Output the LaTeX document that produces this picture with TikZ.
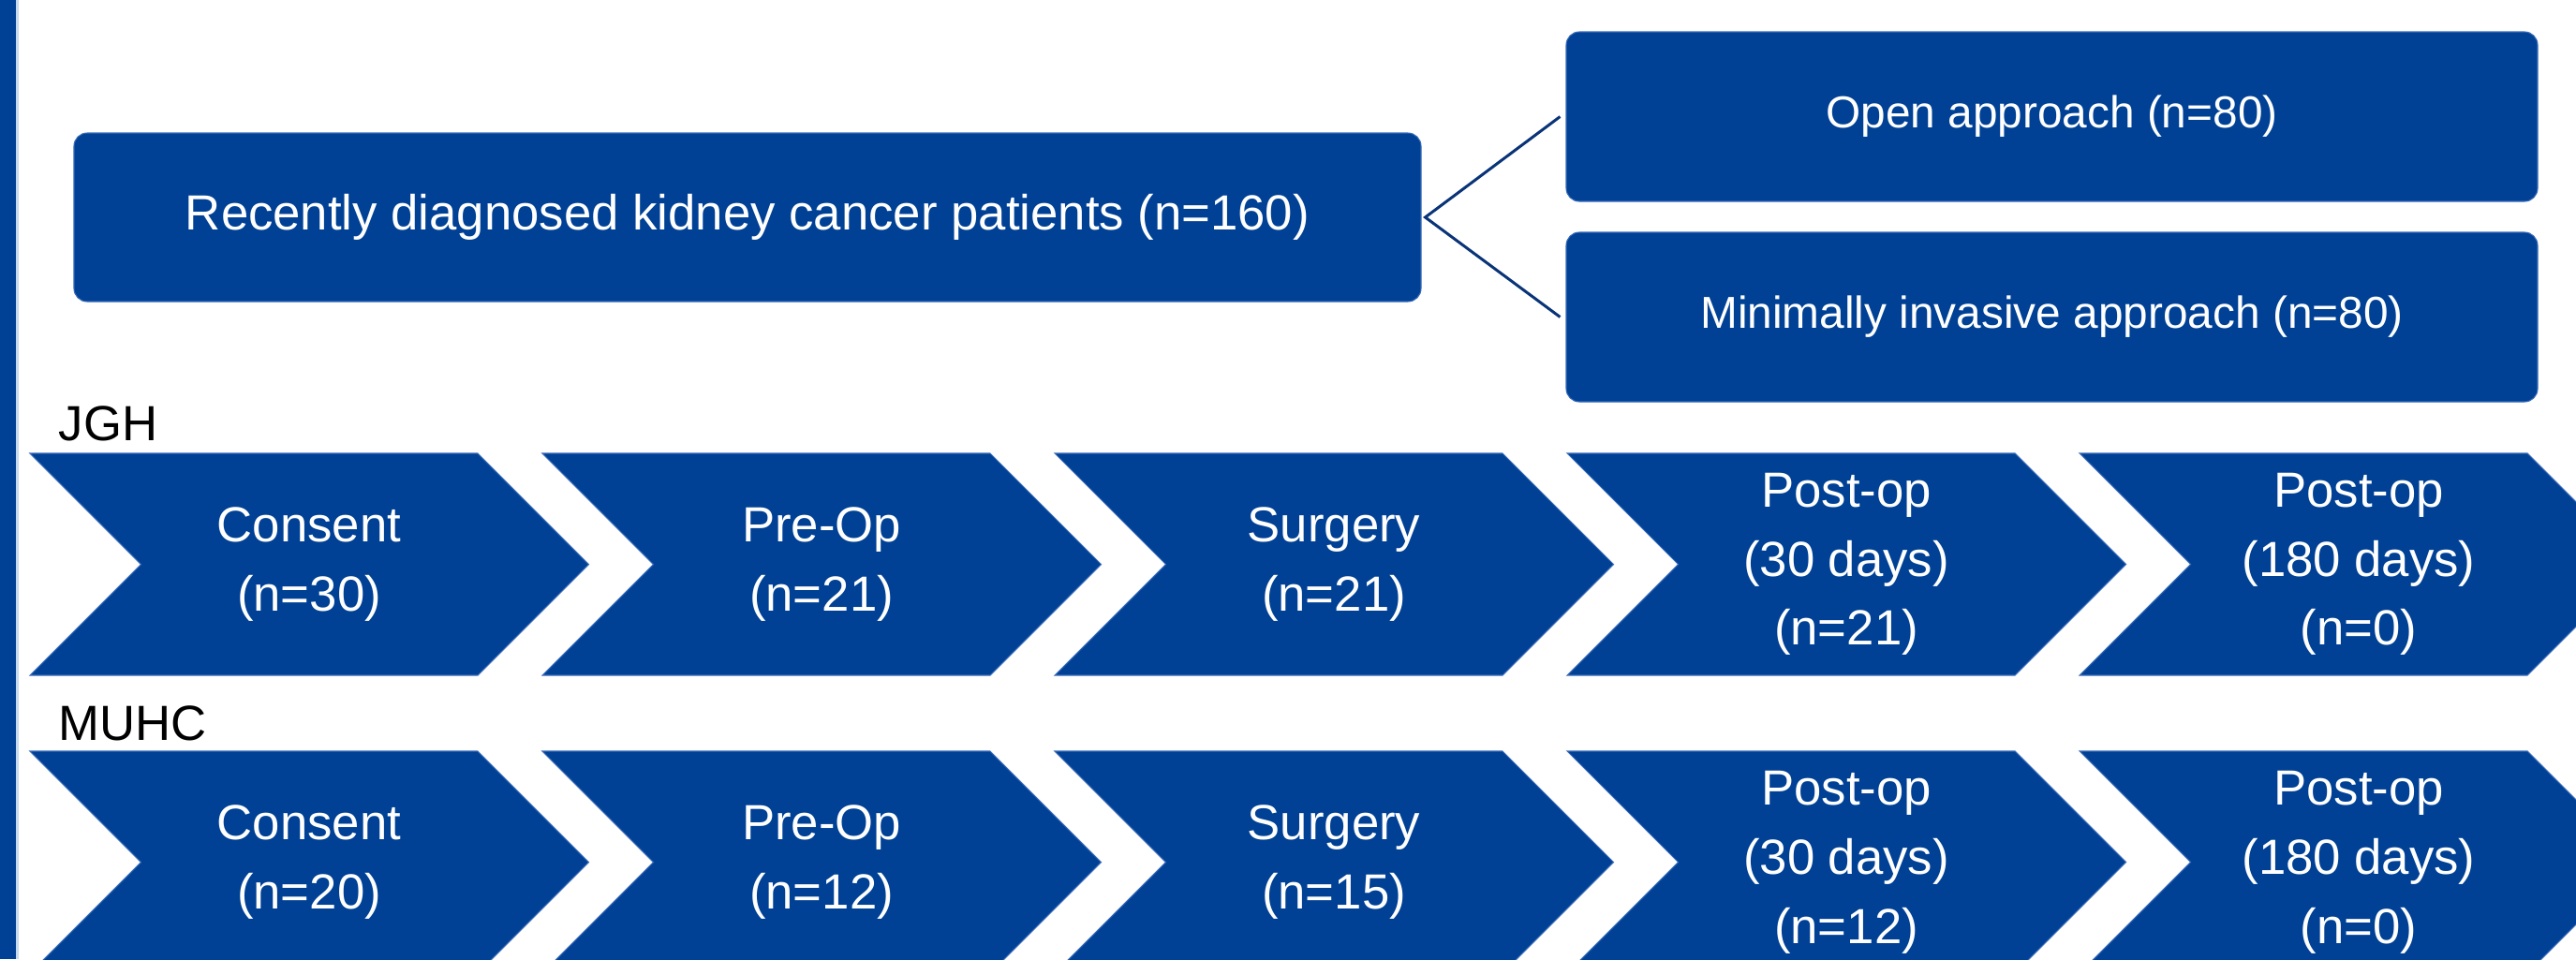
\documentclass[tikz,border=0pt]{standalone}
\usepackage{fontspec}
\setmainfont{Liberation Sans}
\definecolor{nhblue}{HTML}{004195}
\definecolor{edgeblue}{HTML}{3A6BB8}
\definecolor{linkblue}{HTML}{0A3478}
\definecolor{barline}{HTML}{C5DCF0}
\newcommand{\drawchev}[4]{%
  \fill[chevfill] (#2,#3) -- ++(4.78,0) -- ++(1.185,-1.185) -- ++(-1.185,-1.185)
     -- ++(-4.78,0) -- ++(1.185,1.185) -- cycle;
  \node[chevtext] (#1) at ({#2+2.98},{#3-1.185}) {#4};
}
\begin{document}
\begin{tikzpicture}[x=1cm,y=1cm,
  bluebox/.style={fill=nhblue, draw=edgeblue, line width=0.3pt, rounded corners=0.14cm,
                  text=white, inner sep=0pt, align=center},
  chevfill/.style={fill=nhblue, draw=edgeblue, line width=0.3pt},
  chevtext/.style={text=white, align=center, inner sep=0pt, font=\fontsize{15}{21}\selectfont},
  sitelabel/.style={anchor=base west, inner sep=0pt, font=\fontsize{15}{18}\selectfont},
  branch/.style={draw=linkblue, line width=0.85pt}]
\useasboundingbox (0,0) rectangle (27.5,-10.24);
\clip (0,0) rectangle (27.5,-10.24);
% left bar
\fill[nhblue] (0,0) rectangle (0.17,-10.24);
\fill[barline] (0.17,0) rectangle (0.20,-10.24);
% top boxes
\node[bluebox, minimum width=14.38cm, minimum height=1.80cm, font=\fontsize{15}{18}\selectfont]
  (main) at (7.98,-2.32) {Recently diagnosed kidney cancer patients (n=160)};
\node[bluebox, minimum width=10.37cm, minimum height=1.81cm, font=\fontsize{13.6}{16}\selectfont]
  (open) at (21.905,-1.245) {Open approach (n=80)};
\node[bluebox, minimum width=10.37cm, minimum height=1.81cm, font=\fontsize{13.6}{16}\selectfont]
  (mia) at (21.905,-3.385) {Minimally invasive approach (n=80)};
\coordinate (apex) at ([xshift=0.04cm]main.east);
\draw[branch] ([xshift=-0.06cm]open.west) -- (apex) -- ([xshift=-0.06cm]mia.west);
% site labels
\node[sitelabel] (jghlabel) at (0.62,-4.70) {JGH};
\node[sitelabel] (muhclabel) at (0.62,-7.90) {MUHC};
% JGH row
\drawchev{jgh1}{0.32}{-4.84}{Consent\\(n=30)}
\drawchev{jgh2}{5.79}{-4.84}{Pre-Op\\(n=21)}
\drawchev{jgh3}{11.26}{-4.84}{Surgery\\(n=21)}
\drawchev{jgh4}{16.73}{-4.84}{Post-op\\(30 days)\\(n=21)}
\drawchev{jgh5}{22.20}{-4.84}{Post-op\\(180 days)\\(n=0)}
% MUHC row
\drawchev{muhc1}{0.32}{-8.02}{Consent\\(n=20)}
\drawchev{muhc2}{5.79}{-8.02}{Pre-Op\\(n=12)}
\drawchev{muhc3}{11.26}{-8.02}{Surgery\\(n=15)}
\drawchev{muhc4}{16.73}{-8.02}{Post-op\\(30 days)\\(n=12)}
\drawchev{muhc5}{22.20}{-8.02}{Post-op\\(180 days)\\(n=0)}
\end{tikzpicture}
\end{document}
